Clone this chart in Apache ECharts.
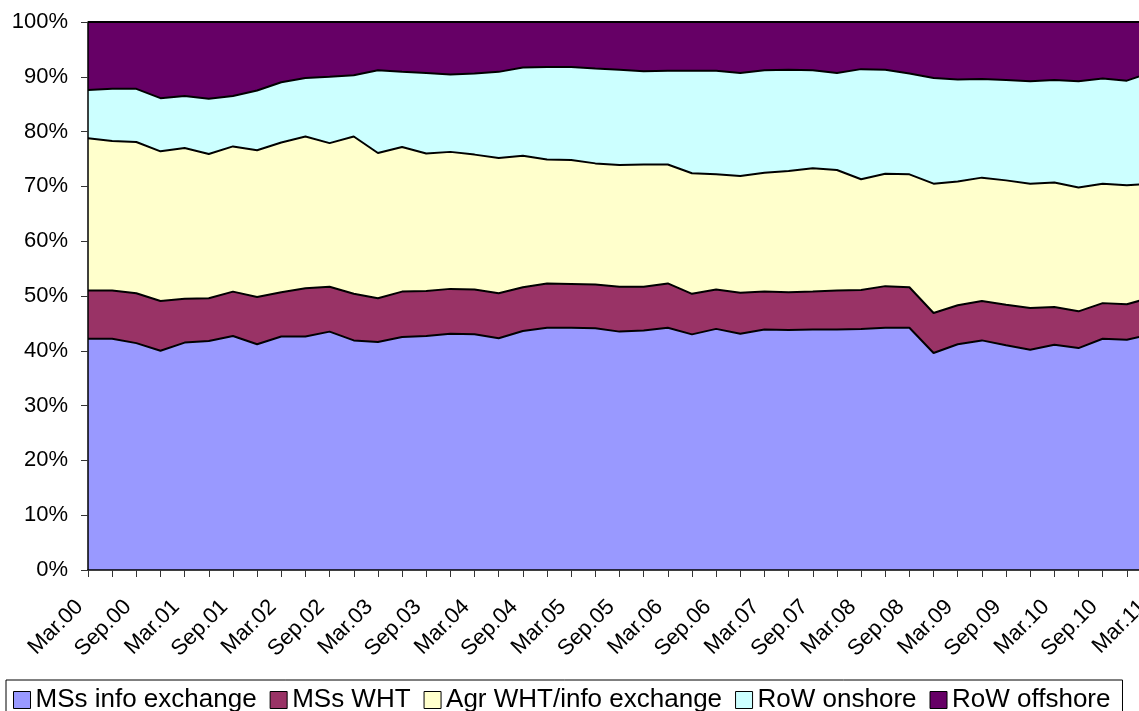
<!DOCTYPE html>
<html>
<head>
<meta charset="utf-8">
<script src="https://cdn.jsdelivr.net/npm/echarts@6/dist/echarts.min.js"></script>
<style>
  html, body { margin: 0; padding: 0; background: #fff; }
  #chart { width: 1139px; height: 711px; }
</style>
</head>
<body>
<div id="chart"></div>
<script>
const quarters = [
  "Mar.00", "Jun.00", "Sep.00", "Dec.00", "Mar.01", "Jun.01", "Sep.01", "Dec.01",
  "Mar.02", "Jun.02", "Sep.02", "Dec.02", "Mar.03", "Jun.03", "Sep.03", "Dec.03",
  "Mar.04", "Jun.04", "Sep.04", "Dec.04", "Mar.05", "Jun.05", "Sep.05", "Dec.05",
  "Mar.06", "Jun.06", "Sep.06", "Dec.06", "Mar.07", "Jun.07", "Sep.07", "Dec.07",
  "Mar.08", "Jun.08", "Sep.08", "Dec.08", "Mar.09", "Jun.09", "Sep.09", "Dec.09",
  "Mar.10", "Jun.10", "Sep.10", "Dec.10", "Mar.11"
];

// shares in % (each quarter sums to 100)
const msInfo = [
  42.2, 42.2, 41.4, 40.0, 41.5, 41.8, 42.7, 41.2, 42.6, 42.6, 43.5, 41.9,
  41.6, 42.5, 42.7, 43.1, 43.0, 42.3, 43.6, 44.2, 44.2, 44.1, 43.5, 43.7,
  44.2, 43.0, 44.0, 43.1, 43.9, 43.8, 43.9, 43.9, 44.0, 44.2, 44.2, 39.6,
  41.2, 41.9, 41.0, 40.2, 41.1, 40.5, 42.2, 42.0, 43.0
];
const msWht = [
  8.8, 8.8, 9.1, 9.1, 8.0, 7.8, 8.1, 8.6, 8.1, 8.8, 8.2, 8.5,
  8.0, 8.3, 8.2, 8.2, 8.2, 8.2, 8.0, 8.1, 8.0, 8.0, 8.2, 8.0,
  8.1, 7.4, 7.2, 7.5, 6.9, 6.9, 6.9, 7.1, 7.1, 7.6, 7.4, 7.3,
  7.1, 7.2, 7.4, 7.6, 6.9, 6.7, 6.5, 6.5, 6.7
];
const agrWht = [
  27.8, 27.3, 27.6, 27.3, 27.5, 26.3, 26.5, 26.8, 27.3, 27.7, 26.2, 28.7,
  26.5, 26.4, 25.1, 25.0, 24.6, 24.7, 24.0, 22.6, 22.6, 22.1, 22.2, 22.3,
  21.7, 22.0, 21.0, 21.3, 21.7, 22.1, 22.5, 22.0, 20.2, 20.5, 20.6, 23.6,
  22.6, 22.5, 22.7, 22.7, 22.7, 22.6, 21.8, 21.7, 20.8
];
const rowOnshore = [
  8.8, 9.5, 9.7, 9.7, 9.5, 10.1, 9.2, 10.9, 11.0, 10.7, 12.1, 11.2,
  15.1, 13.7, 14.7, 14.1, 14.8, 15.7, 16.1, 16.9, 17.0, 17.3, 17.4, 17.0,
  17.1, 18.7, 18.9, 18.8, 18.7, 18.5, 17.9, 17.7, 20.1, 19.0, 18.4, 19.3,
  18.6, 18.0, 18.3, 18.7, 18.7, 19.4, 19.2, 19.1, 20.3
];
const rowOffshore = [
  12.4, 12.2, 12.2, 13.9, 13.5, 14.0, 13.5, 12.5, 11.0, 10.2, 10.0, 9.7,
  8.8, 9.1, 9.3, 9.6, 9.4, 9.1, 8.3, 8.2, 8.2, 8.5, 8.7, 9.0,
  8.9, 8.9, 8.9, 9.3, 8.8, 8.7, 8.8, 9.3, 8.6, 8.7, 9.4, 10.2,
  10.5, 10.4, 10.6, 10.8, 10.6, 10.8, 10.3, 10.7, 9.2
];

const seriesNames = ["MSs info exchange", "MSs WHT", "Agr WHT/info exchange", "RoW onshore", "RoW offshore"];
const seriesColors = ["#9999FF", "#993366", "#FFFFCC", "#CCFFFF", "#660066"];
const seriesData = [msInfo, msWht, agrWht, rowOnshore, rowOffshore];

const font = "Liberation Sans, Arial, sans-serif";

const chart = echarts.init(document.getElementById("chart"));

chart.setOption({
  backgroundColor: "#fff",
  animation: false,
  grid: {
    left: 88,
    top: 22,
    right: -12,
    bottom: 141,
    outerBoundsMode: "none"
  },
  legend: {
    left: 6,
    top: 680,
    padding: [7, 12, 7, 7],
    borderColor: "#000",
    borderWidth: 1,
    itemWidth: 17,
    itemHeight: 17,
    itemGap: 13,
    icon: "rect",
    selectedMode: false,
    itemStyle: { borderColor: "#000", borderWidth: 1 },
    textStyle: { fontFamily: font, fontSize: 26, color: "#000" },
    data: seriesNames
  },
  xAxis: {
    type: "category",
    data: quarters,
    boundaryGap: false,
    z: 20,
    axisLine: { lineStyle: { color: "#000", width: 1.5 } },
    axisTick: { interval: 0, length: 7, lineStyle: { color: "#333" } },
    axisLabel: {
      interval: 1,
      rotate: 45,
      margin: 25,
      padding: [0, 12, 0, 0],
      fontFamily: font,
      fontSize: 22,
      color: "#000"
    },
    splitLine: { show: false }
  },
  yAxis: {
    type: "value",
    min: 0,
    max: 100,
    interval: 10,
    z: 20,
    axisLine: { show: true, lineStyle: { color: "#000", width: 1.5 } },
    axisTick: { show: true, length: 7, lineStyle: { color: "#333" } },
    axisLabel: {
      formatter: "{value}%",
      margin: 20,
      fontFamily: font,
      fontSize: 22,
      color: "#000"
    },
    splitLine: { show: false }
  },
  series: seriesNames.map((name, idx) => {
    return {
      name: name,
      type: "line",
      stack: "total",
      data: seriesData[idx],
      symbol: "none",
      z: 10 - idx,
      itemStyle: { color: seriesColors[idx] },
      lineStyle: { color: "#000", width: 2 },
      areaStyle: { color: seriesColors[idx], opacity: 1 }
    };
  })
});
</script>
</body>
</html>
